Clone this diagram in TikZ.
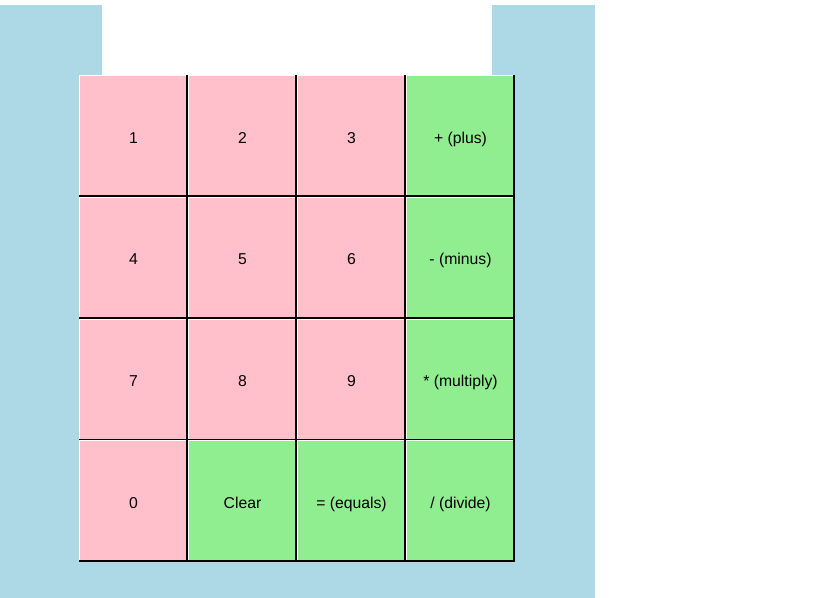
\documentclass[tikz,border=0pt]{standalone}
\usepackage{fontspec}
\setmainfont{Liberation Sans}
\definecolor{bgblue}{HTML}{ADD8E6}
\definecolor{cpink}{HTML}{FFC0CB}
\definecolor{cgreen}{HTML}{90EE90}
\tikzset{
  keybox/.style={rectangle, minimum width=109bp, minimum height=121.75bp, inner sep=0pt, outer sep=0pt, font=\fontsize{15.8}{18}\selectfont, text height=14.3bp, text depth=0pt, anchor=north west},
  pinkkey/.style={keybox, fill=cpink},
  greenkey/.style={keybox, fill=cgreen},
  hilite/.style={draw=white, line width=1.2bp},
  shade/.style={draw=black, line width=1.6bp}
}
\begin{document}
\begin{tikzpicture}[x=1bp, y=-1bp]
\useasboundingbox (0,0) rectangle (816,598);
\fill[bgblue] (0,5) rectangle (595,598);
\fill[white] (102,5) rectangle (492,75);
\foreach \lab/\c/\r/\st [count=\n] in {
  1/0/0/pinkkey, 2/1/0/pinkkey, 3/2/0/pinkkey, {+ (plus)}/3/0/greenkey,
  4/0/1/pinkkey, 5/1/1/pinkkey, 6/2/1/pinkkey, {- (minus)}/3/1/greenkey,
  7/0/2/pinkkey, 8/1/2/pinkkey, 9/2/2/pinkkey, {* (multiply)}/3/2/greenkey,
  0/0/3/pinkkey, Clear/1/3/greenkey, {= (equals)}/2/3/greenkey, {/ (divide)}/3/3/greenkey}
{
  \node[\st] (k\n) at ({79+109*\c},{75+121.75*\r}) {\lab};
  \draw[hilite] ([xshift=0.6bp]k\n.south west) -- ([xshift=0.6bp,yshift=-0.6bp]k\n.north west) -- ([yshift=-0.6bp]k\n.north east);
  \draw[shade] ([yshift=0.8bp]k\n.south west) -- ([xshift=-0.8bp,yshift=0.8bp]k\n.south east) -- ([xshift=-0.8bp]k\n.north east);
}
\end{tikzpicture}
\end{document}
